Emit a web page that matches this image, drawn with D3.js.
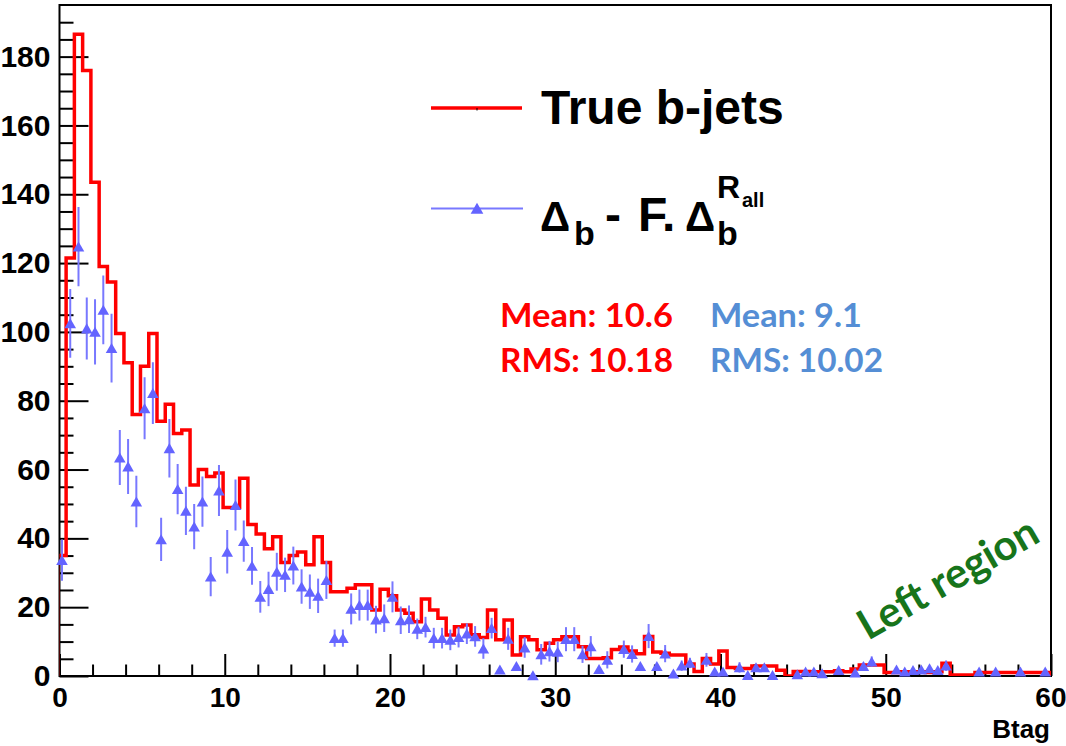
<!DOCTYPE html>
<html><head><meta charset="utf-8">
<script src="https://cdn.jsdelivr.net/npm/d3@7"></script>
<style>body{margin:0;background:#fff}svg{display:block}</style>
</head><body>
<svg id="chart" width="1066" height="746"></svg>
<script>
// ---------- data ----------
const binStart = -0.1, binWidth = 0.5;
const trueB = [35,121.5,186.5,176,143.5,119,114.5,99.5,91,76,
  90,99.5,74,79,70.5,71.5,55.5,60,58,59,
  49,49,57.5,44,41.3,37,40.5,33,35,36,
  32.3,40.5,33,24.5,24.5,25.5,26.5,26.5,19.2,25.2,
  23.3,19.2,18.2,15.8,22.4,19.2,16.8,11.9,14.3,14.8,
  12,11.2,19.2,10.5,16.3,6.1,11.4,10.5,7.6,9.5,
  10.5,11.4,11.4,8.5,5.1,5.1,5.3,7.7,8.4,7.3,
  6.5,11.5,7.0,6.6,6.1,6.1,3.5,1.3,5.1,3.5,
  7.3,2.5,2.2,2.2,2.9,2.9,2.9,1.7,0,1.3,
  1.3,1.2,1.2,1.2,1.5,1.2,2,3.2,3.2,3.2,
  1,1,1.2,1,1.2,1,1.2,3.7,0.3,0.3,
  0.3,1,1,1,1,1,1,1,1,1];
const deltaB = [33.7,102.5,124.8,101,100,106.4,95.3,63.5,60.9,50.7,
  77.8,82.2,39.7,66.2,54.3,48,43.4,50.7,28.9,53.9,
  36.1,49.7,39.2,32,23,25.3,30.3,29.4,32.1,26,
  24.5,23.3,27.9,11,11,19.5,20.6,20.6,16.4,16.8,
  23,16.2,16.5,13.7,14.2,11,11,10.5,11.3,12.3,
  11.5,8,13.9,1.9,10.8,2.9,8.3,0.2,6.3,7.2,
  7,10.7,10.7,6.3,8.6,2,4.7,null,7.8,6.4,
  2.9,11.6,2.9,6.5,0.7,3,3.8,null,4.7,1.3,
  1.3,null,2.5,0.3,2.5,2.5,0.3,null,null,0.5,
  1.3,1.3,0.8,null,1.7,null,1,2.9,4.2,null,
  null,1.9,1.3,1.7,1.9,2.2,1.7,3,null,null,
  null,1.3,null,1.3,null,null,1.3,null,null,1.3];
const deltaErr = [6,10,11.5,9,9.5,10,10,8,8,7.5,
  9,9,6.3,8.5,7.3,7,6.6,7.3,5.7,7.4,
  6.3,7.4,6,5.5,4.6,5,5.5,5,5.5,5,
  5,5,5.5,2.5,2.5,4.5,4.5,4.5,4,4,
  4.5,4,4,3,3,3,3,3,3,3,
  3,3,3,0,3.2,0,3,0,3,3,
  3,3.5,3.5,2.5,3,0,2.5,0,2.5,2.5,
  0,3.5,0,2.5,0,1.5,1.5,0,2,0,
  0,0,1.5,0,0,0,0,0,0,0,
  0,0,0,0,0,0,0,1,1.5,0,
  0,0,0,0,0,0,0,1.5,0,0,
  0,0,0,0,0,0,0,0,0,0];
const xMajor = [0,10,20,30,40,50,60];
const xTickLabels = ["0","10","20","30","40","50","60"];
const yMajor = [0,20,40,60,80,100,120,140,160,180];
const yTickLabels = ["0","20","40","60","80","100","120","140","160","180"];
const statsTrue = ["Mean: 10.6","RMS: 10.18"];
const statsDelta = ["Mean: 9.1","RMS: 10.02"];

// ---------- setup ----------
const svg = d3.select("#chart");
const x = d3.scaleLinear().domain([0,60]).range([59.5,1051]);
const y = d3.scaleLinear().domain([0,195]).range([676,5]);
const RED = "#ff0000", BLUE = "#6464ff", BLUEBAR = "#7878ff";
const AX = "'Liberation Sans', Arial, sans-serif";
const CAL = "Lato, 'Open Sans', sans-serif";

svg.append("rect").attr("width",1066).attr("height",746).attr("fill","#fff");
svg.append("defs").append("clipPath").attr("id","plotclip")
  .append("rect").attr("x",x(0)).attr("y",y(195)).attr("width",x(60)-x(0)).attr("height",y(0)-y(195));

// minor ticks
const xMinor = d3.range(0,61,2).filter(v => v % 10 !== 0);
const yMinor = d3.range(0,195,5).filter(v => v % 20 !== 0);
function styleAxis(g){
  g.select(".domain").remove();
  g.selectAll(".tick line").attr("stroke","#000").attr("stroke-width",2);
  g.selectAll(".tick text").attr("fill","#000").attr("font-family",AX).attr("font-weight","bold");
}
svg.append("g").attr("transform",`translate(0,${y(0)})`)
  .call(d3.axisBottom(x).tickValues(xMinor).tickSizeInner(-11.5).tickSizeOuter(0).tickFormat(""))
  .call(styleAxis);
svg.append("g").attr("transform",`translate(${x(0)},0)`)
  .call(d3.axisLeft(y).tickValues(yMinor).tickSizeInner(-14).tickSizeOuter(0).tickFormat(""))
  .call(styleAxis);
const gx = svg.append("g").attr("transform",`translate(0,${y(0)})`)
  .call(d3.axisBottom(x).tickValues(xMajor).tickSizeInner(-22).tickSizeOuter(0).tickPadding(11)
    .tickFormat((d,i)=>xTickLabels[i]))
  .call(styleAxis);
gx.selectAll(".tick text").attr("font-size",28);
gx.selectAll(".tick text").filter(d=>d===60).attr("text-anchor","end").attr("x",15);
const gy = svg.append("g").attr("transform",`translate(${x(0)},0)`)
  .call(d3.axisLeft(y).tickValues(yMajor).tickSizeInner(-29).tickSizeOuter(0).tickPadding(9)
    .tickFormat((d,i)=>yTickLabels[i]))
  .call(styleAxis);
gy.selectAll(".tick text").attr("font-size",30);

// frame
svg.append("rect").attr("x",x(0)).attr("y",y(195)).attr("width",x(60)-x(0)).attr("height",y(0)-y(195))
  .attr("fill","none").attr("stroke","#000").attr("stroke-width",2);

// red histogram
const edges = d3.range(trueB.length+1).map(k => binStart + k*binWidth);
const pts = [[edges[0],0]].concat(trueB.map((v,k)=>[edges[k],v]));
pts.push([edges[trueB.length], trueB[trueB.length-1]]);
pts.push([edges[trueB.length], 0]);
svg.append("path").attr("clip-path","url(#plotclip)")
  .attr("d", d3.line().x(d=>x(d[0])).y(d=>y(d[1])).curve(d3.curveStepAfter)(pts))
  .attr("fill","none").attr("stroke",RED).attr("stroke-width",3.5).attr("stroke-linejoin","miter");

// blue points
const pdata = deltaB.map((v,k)=>({c: edges[k]+binWidth/2, v, e: deltaErr[k]})).filter(d=>d.v!==null);
svg.append("g").attr("clip-path","url(#plotclip)").selectAll("line").data(pdata.filter(d=>d.e>0)).join("line")
  .attr("x1",d=>x(d.c)).attr("x2",d=>x(d.c))
  .attr("y1",d=>y(d.v-d.e)).attr("y2",d=>y(d.v+d.e))
  .attr("stroke",BLUEBAR).attr("stroke-width",2);
const tri = d3.symbol(d3.symbolTriangle, 58);
svg.append("g").selectAll("path").data(pdata).join("path")
  .attr("d",tri).attr("transform",d=>`translate(${x(d.c)},${y(d.v)+1.6})`)
  .attr("fill",BLUE);

// legend
svg.append("line").attr("x1",431).attr("x2",522).attr("y1",108).attr("y2",108)
  .attr("stroke",RED).attr("stroke-width",3.5);
svg.append("line").attr("x1",477).attr("x2",477).attr("y1",108).attr("y2",110.5)
  .attr("stroke","#000").attr("stroke-width",1);
svg.append("text").attr("x",541).attr("y",124).attr("font-family",AX).attr("font-weight","bold")
  .attr("font-size",48).attr("fill","#000").text("True b-jets");
svg.append("line").attr("x1",431).attr("x2",523).attr("y1",208.5).attr("y2",208.5)
  .attr("stroke",BLUEBAR).attr("stroke-width",2);
svg.append("path").attr("d",d3.symbol(d3.symbolTriangle,70)).attr("transform","translate(477,210)").attr("fill",BLUE);

const lg = svg.append("g").attr("font-family",AX).attr("fill","#000");
lg.append("text").attr("x",540).attr("y",231).attr("font-size",42).attr("font-weight","bold").text("\u0394");
lg.append("text").attr("x",574).attr("y",245).attr("font-size",34).attr("font-weight","bold").text("b");
lg.append("text").attr("x",605).attr("y",231).attr("font-size",48).attr("font-weight","bold").text("-");
lg.append("text").attr("x",638).attr("y",231).attr("font-size",48).attr("font-weight","bold").text("F.");
lg.append("text").attr("x",685).attr("y",231).attr("font-size",42).attr("font-weight","bold").text("\u0394");
lg.append("text").attr("x",717).attr("y",245).attr("font-size",34).attr("font-weight","bold").text("b");
lg.append("text").attr("x",717).attr("y",198).attr("font-size",32).attr("font-weight","bold").text("R");
lg.append("text").attr("x",742).attr("y",207).attr("font-size",20).attr("font-weight","bold").text("all");

// stats
const st = svg.append("g").attr("font-family",CAL).attr("font-weight","bold").attr("font-size",32);
const statsW = [[173,173],[152,173]];
statsTrue.forEach((t,i)=> st.append("text").attr("x",500).attr("y",327+45*i).attr("fill","#ff0000")
  .attr("textLength",statsW[0][i]).attr("lengthAdjust","spacingAndGlyphs").text(t));
statsDelta.forEach((t,i)=> st.append("text").attr("x",710).attr("y",327+45*i).attr("fill","#558ed5")
  .attr("textLength",statsW[1][i]).attr("lengthAdjust","spacingAndGlyphs").text(t));

// annotation
svg.append("text").attr("transform","translate(868,641) rotate(-30)")
  .attr("font-family",CAL).attr("font-weight","bold").attr("font-size",42).attr("fill","#17741b")
  .text("Left region");

// axis title
svg.append("text").attr("x",1050).attr("y",738).attr("text-anchor","end")
  .attr("font-family",AX).attr("font-weight","bold").attr("font-size",26).attr("fill","#000").text("Btag");
</script>
</body></html>
